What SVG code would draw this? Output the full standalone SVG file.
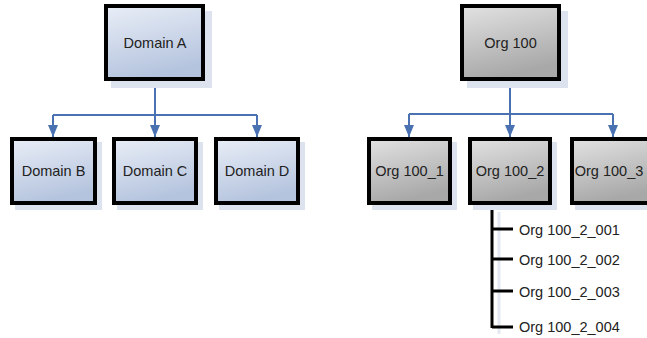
<svg xmlns="http://www.w3.org/2000/svg" width="647" height="338" viewBox="0 0 647 338">
  <defs>
    <linearGradient id="blueFill" x1="0" y1="0" x2="0.3" y2="1">
      <stop offset="0" stop-color="#e9eef7"/>
      <stop offset="1" stop-color="#b5c4de"/>
    </linearGradient>
    <linearGradient id="greyFill" x1="0" y1="0" x2="0.3" y2="1">
      <stop offset="0" stop-color="#e2e2e2"/>
      <stop offset="1" stop-color="#a8a8a8"/>
    </linearGradient>
    <marker id="arrow" viewBox="0 0 12 10" refX="12" refY="5" markerWidth="6" markerHeight="5" orient="auto" markerUnits="strokeWidth">
      <path d="M0,0 L12,5 L0,10 Z" fill="#4a72b2"/>
    </marker>
  </defs>
  <style>
    .shadow { fill: #dde3ee; }
    .box { stroke: #000; stroke-width: 4; }
    .blue { fill: url(#blueFill); }
    .grey { fill: url(#greyFill); }
    .label { font-family: "Liberation Sans", Arial, sans-serif; font-size: 14.5px; fill: #222; text-anchor: middle; }
    .item { font-family: "Liberation Sans", Arial, sans-serif; font-size: 14.5px; fill: #222; }
    .link { fill: none; stroke: #4a72b2; stroke-width: 2; }
    .tree { fill: none; stroke: #000; stroke-width: 3; }
  </style>

  <g id="connectors">
    <path class="link" d="M155,81 V115"/>
    <path class="link" d="M53,115 H257"/>
    <path class="link" d="M53,115 V137" marker-end="url(#arrow)"/>
    <path class="link" d="M155,115 V137" marker-end="url(#arrow)"/>
    <path class="link" d="M257,115 V137" marker-end="url(#arrow)"/>
    <path class="link" d="M510,81 V114"/>
    <path class="link" d="M409,114 H613"/>
    <path class="link" d="M409,114 V137" marker-end="url(#arrow)"/>
    <path class="link" d="M510,114 V137" marker-end="url(#arrow)"/>
    <path class="link" d="M613,114 V137" marker-end="url(#arrow)"/>
    <!-- shadow of the list tree -->
    <path d="M499,212 V334" stroke="#e3e8f1" stroke-width="3" fill="none"/>
    <path class="tree" d="M492,205 V328"/>
    <path class="tree" d="M492,229 H513 M492,259 H513 M492,291 H513 M492,327 H513"/>
  </g>

  <g id="domain-a">
    <rect class="shadow" x="111" y="11" width="101" height="77"/>
    <rect class="box blue" x="106" y="6" width="97" height="73"/>
    <text class="label" x="155" y="48">Domain A</text>
  </g>
  <g id="domain-b">
    <rect class="shadow" x="15" y="142" width="87" height="68"/>
    <rect class="box blue" x="12" y="139" width="83" height="64"/>
    <text class="label" x="53.5" y="176">Domain B</text>
  </g>
  <g id="domain-c">
    <rect class="shadow" x="117" y="142" width="86" height="68"/>
    <rect class="box blue" x="114" y="139" width="82" height="64"/>
    <text class="label" x="155" y="176">Domain C</text>
  </g>
  <g id="domain-d">
    <rect class="shadow" x="219" y="142" width="86" height="68"/>
    <rect class="box blue" x="216" y="139" width="82" height="64"/>
    <text class="label" x="257" y="176">Domain D</text>
  </g>

  <g id="org-100">
    <rect class="shadow" x="467" y="11" width="101" height="77"/>
    <rect class="box grey" x="462" y="6" width="97" height="73"/>
    <text class="label" x="510.5" y="48">Org 100</text>
  </g>
  <g id="org-100-1">
    <rect class="shadow" x="372" y="142" width="85" height="68"/>
    <rect class="box grey" x="369" y="139" width="81" height="64"/>
    <text class="label" x="409.5" y="176">Org 100_1</text>
  </g>
  <g id="org-100-2">
    <rect class="shadow" x="473" y="142" width="84" height="68"/>
    <rect class="box grey" x="470" y="139" width="80" height="64"/>
    <text class="label" x="510" y="176">Org 100_2</text>
  </g>
  <g id="org-100-3">
    <rect class="shadow" x="575" y="142" width="88" height="68"/>
    <rect class="box grey" x="572" y="139" width="84" height="64"/>
    <text class="label" x="609" y="176">Org 100_3</text>
  </g>

  <g id="org-100-2-list">
    <text class="item" x="519" y="234.5">Org 100_2_001</text>
    <text class="item" x="519" y="264.5">Org 100_2_002</text>
    <text class="item" x="519" y="296.5">Org 100_2_003</text>
    <text class="item" x="519" y="332">Org 100_2_004</text>
  </g>
</svg>
